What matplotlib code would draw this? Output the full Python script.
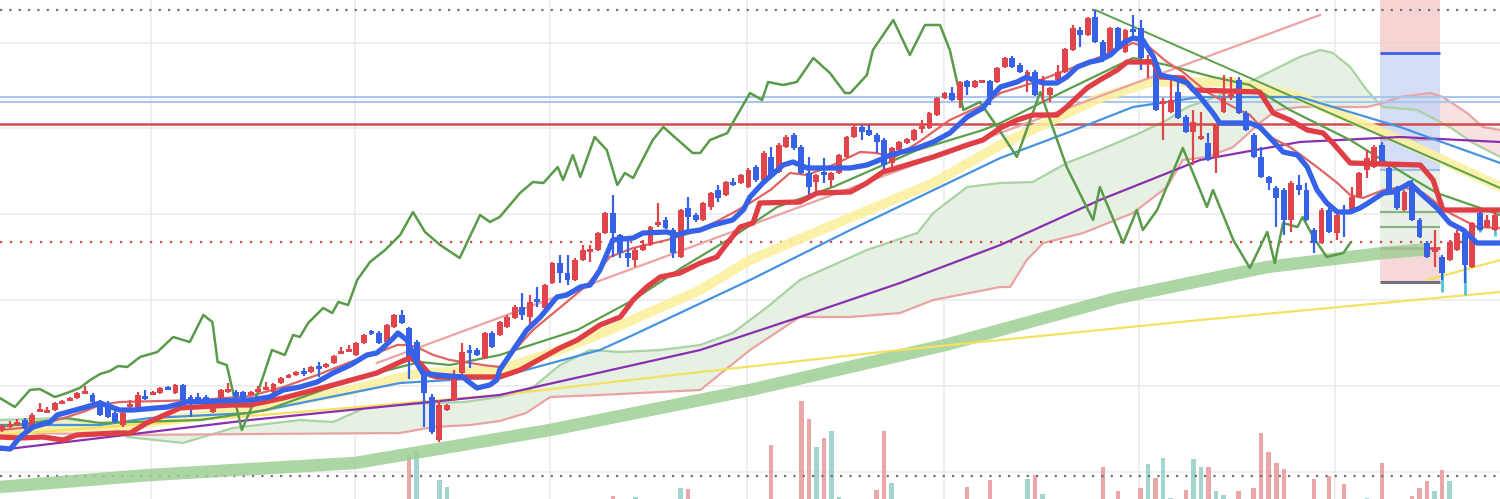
import matplotlib
matplotlib.use("Agg")
import matplotlib.pyplot as plt
import numpy as np

# ---- candles (price levels, the price scale runs top -> bottom: 0 at top, 499 at bottom) ----
opens = [430, 426, 424, 420, 427, 411, 412, 410, 403, 400, 398, 393, 395, 402, 403, 413, 425, 406, 407, 396,
         394, 393, 387, 393, 385, 397, 397, 397, 412, 398, 391, 392, 392, 394, 391, 389, 392, 383, 377, 375,
         371, 372, 366, 367, 363, 353, 351, 355, 343, 331, 333, 342, 327, 315, 328, 342, 373, 397, 440, 410,
         400, 373, 350, 350, 358, 333, 335,
         327, 318, 307, 317, 299, 308, 283, 263, 273, 280, 260, 251, 250, 233, 213, 235, 253, 260, 250, 245,
         224, 220, 230, 257, 208, 215, 220, 207, 190, 195, 182, 183, 187,
         167, 180, 157, 172, 147, 135, 147, 173, 182, 172, 180, 173, 157, 137, 127, 130, 135, 140, 163, 150,
         143, 140, 128, 128, 115, 98, 93, 100, 81, 87, 82, 81, 82,
         67, 58, 65, 74, 72, 81, 95, 80, 72, 50, 30, 35, 17, 42, 53, 28, 52, 29, 28, 61,
         65, 103, 112, 92, 117, 132, 138, 143, 157, 112, 96, 80, 113,
         135, 157, 177, 188, 190, 220, 185, 190, 230, 243, 210, 233, 211, 212, 197, 170, 167, 145, 168, 188,
         210, 185, 220, 243, 251, 257, 260, 250, 233, 267, 213, 227, 230]
closes = [426, 424, 422, 428, 415, 409, 410, 403, 401, 398, 393, 391, 402, 415, 417, 422, 413, 404, 395, 398,
          392, 388, 389, 385, 400, 400, 399, 400, 402, 390, 389, 397, 398, 392, 389, 387, 384, 378, 375, 372,
          372, 367, 368, 364, 356, 351, 349, 343, 335, 334, 343, 325, 315, 323, 357, 363, 393, 432, 405, 405,
          377, 352, 352, 355, 333, 347, 322,
          317, 307, 315, 302, 301, 285, 263, 273, 280, 260, 250, 249, 233, 213, 233, 253, 258, 250, 245, 227,
          222, 228, 253, 210, 217, 220, 203, 193, 198, 182, 184, 175, 170,
          180, 153, 177, 145, 137, 148, 173, 187, 175, 174, 173, 155, 137, 127, 132, 135, 142, 165, 148, 142,
          139, 130, 126, 113, 98, 93, 100, 82, 87, 81, 80, 97, 68,
          58, 67, 72, 72, 95, 79, 88, 72, 49, 28, 35, 18, 42, 57, 28, 48, 30, 31, 58, 59,
          110, 101, 100, 118, 132, 122, 136, 160, 125, 98, 94, 113, 130,
          157, 177, 183, 198, 220, 183, 190, 220, 243, 210, 232, 215, 213, 197, 173, 158, 147, 163, 190, 208,
          192, 220, 237, 257, 249, 273, 242, 233, 265, 223, 230, 220, 215]
highs = [424, 421, 419, 418, 413, 403, 407, 402, 400, 397, 392, 386, 393, 400, 401, 411, 410, 400, 392, 390,
         391, 387, 386, 384, 384, 395, 393, 395, 400, 389, 383, 390, 391, 391, 386, 382, 383, 377, 374, 371,
         368, 366, 362, 363, 355, 347, 345, 342, 334, 330, 331, 324, 314, 310, 327, 340, 370, 394, 400, 404,
         370, 343, 345, 348, 332, 331, 321,
         315, 305, 293, 295, 287, 284, 262, 255, 255, 258, 245, 245, 232, 212, 195, 234, 240, 248, 240, 226,
         203, 217, 228, 209, 197, 213, 202, 192, 185, 181, 178, 174, 168,
         165, 151, 147, 143, 135, 133, 145, 157, 174, 158, 172, 154, 136, 125, 125, 125, 133, 138, 147, 141,
         138, 129, 120, 112, 97, 92, 87, 81, 80, 80, 80, 80, 67,
         57, 56, 63, 70, 70, 76, 87, 65, 48, 25, 27, 17, 10, 40, 27, 27, 29, 15, 20, 55,
         63, 98, 80, 82, 115, 110, 112, 133, 124, 75, 77, 77, 111,
         133, 147, 176, 186, 188, 181, 175, 183, 228, 208, 208, 213, 205, 187, 172, 150, 145, 142, 166, 186,
         190, 180, 218, 241, 230, 255, 240, 230, 230, 222, 208, 215, 210]
lows = [432, 428, 426, 430, 428, 412, 413, 411, 404, 401, 399, 394, 403, 416, 418, 423, 427, 408, 408, 400,
        395, 394, 390, 394, 401, 417, 402, 402, 413, 399, 393, 398, 399, 395, 392, 390, 393, 384, 378, 376,
        376, 373, 377, 368, 364, 354, 352, 356, 344, 335, 344, 343, 328, 324, 379, 365, 427, 434, 442, 411,
        401, 374, 368, 356, 359, 348, 336,
        328, 319, 320, 327, 307, 309, 284, 283, 285, 281, 261, 262, 251, 234, 257, 258, 267, 267, 251, 246,
        227, 229, 258, 258, 232, 222, 221, 210, 202, 196, 186, 184, 188,
        182, 181, 178, 173, 148, 150, 174, 198, 193, 183, 187, 174, 158, 138, 140, 136, 153, 172, 170, 151,
        144, 141, 133, 129, 116, 99, 101, 108, 95, 88, 83, 105, 83,
        68, 68, 73, 92, 96, 103, 102, 81, 73, 51, 47, 36, 43, 62, 54, 50, 53, 37, 70, 78,
        111, 140, 113, 119, 133, 165, 140, 161, 173, 113, 100, 114, 131,
        158, 178, 190, 227, 235, 232, 195, 221, 253, 244, 233, 240, 237, 213, 198, 178, 168, 164, 191, 210,
        211, 221, 238, 258, 267, 280, 261, 251, 283, 268, 231, 228, 231]

# ---- volume (bar index, height from the bottom edge, 1 = up day) ----
vol_x = [54, 55, 58, 59, 81, 84, 90, 91, 102, 106, 107, 108, 109, 110, 111, 116, 117, 118, 128, 131,
         136, 137, 138, 146, 148, 151, 152, 153, 154, 155, 157, 158, 159, 160, 161, 162, 164, 166, 167, 168,
         169, 170, 174, 176, 178, 181, 183, 187, 188, 189, 190, 191, 192]
vol_h = [44, 48, 19, 12, 3, 2, 11, 10, 54, 98, 80, 52, 61, 68, 2, 9, 68, 16, 12, 19,
         20, 24, 5, 32, 8, 11, 35, 21, 41, 1, 9, 40, 32, 32, 8, 4, 8, 11, 66, 47,
         36, 30, 20, 23, 15, 1, 36, 3, 11, 18, 8, 29, 18]
vol_up = [1, 0, 0, 0, 1, 0, 0, 1, 1, 1, 1, 0, 1, 0, 0, 1, 1, 0, 1, 1,
          0, 1, 0, 1, 1, 1, 0, 1, 0, 0, 1, 0, 0, 1, 0, 0, 1, 1, 1, 1,
          1, 1, 1, 1, 1, 0, 1, 1, 1, 1, 0, 1, 0]

# ---- indicator lines (x in bars) ----
tenkan_x = [-0.3, 1.1, 2.4, 4.1, 6.4, 7.3, 10.7, 13.0, 15.6, 17.4, 21.9, 24.5, 32.9, 35.5, 37.3, 39.5, 41.8, 43.9,
            46.2, 48.4, 49.7, 50.5, 51.9, 52.5, 53.7, 54.1, 55.0, 55.8, 57.7, 61.1, 62.1, 63.0, 64.7, 65.6, 66.0,
            69.6, 71.4, 73.6, 74.9, 76.7, 78.0, 79.3, 81.0, 83.7, 85.0, 88.2, 89.5, 90.8, 92.6, 94.3, 96.9, 98.3,
            99.2, 100.9, 103.6, 104.9, 106.8, 112.5, 114.7, 116.4, 117.8, 121.4, 123.5, 125.7, 128.0, 130.1,
            131.4, 132.4, 134.6, 135.9, 136.7, 138.1, 139.9, 141.2, 142.6, 144.3, 145.6, 147.0, 148.7, 150.0,
            151.3, 152.7, 153.6, 155.3, 157.2, 158.9, 160.6, 161.5, 165.5, 166.8, 168.2, 169.9, 171.8, 173.1,
            174.4, 175.7, 177.1, 178.8, 180.1, 181.4, 183.2, 184.5, 185.8, 186.7, 188.1, 190.3, 192.0, 193.8,
            195.6, 198.7]
tenkan_y = [448, 449, 437, 427, 422, 415, 408, 403, 410, 410, 407, 402, 400, 397, 390, 387, 382, 373, 365, 355,
            353, 348, 338, 333, 340, 347, 363, 373, 375, 377, 383, 388, 385, 380, 370, 330, 317, 297, 295, 287,
            285, 270, 240, 238, 233, 232, 235, 232, 230, 225, 220, 210, 197, 183, 165, 162, 168, 168, 165, 160,
            155, 148, 142, 133, 117, 108, 95, 87, 82, 77, 80, 83, 83, 77, 67, 62, 60, 55, 43, 38,
            40, 57, 75, 78, 83, 97, 113, 123, 123, 127, 138, 152, 155, 167, 190, 203, 212, 212, 208, 202,
            193, 192, 187, 183, 193, 208, 223, 230, 243, 243]

kijun_x = [-0.3, 2.4, 5.4, 8.1, 9.9, 15.3, 17.0, 19.2, 23.6, 30.6, 32.9, 37.3, 43.9, 49.7, 52.8, 54.1, 55.4,
           56.8, 57.7, 66.0, 68.7, 74.0, 76.3, 79.3, 82.0, 83.7, 85.5, 87.3, 89.9, 92.6, 94.8, 96.2, 97.9, 99.6,
           100.5, 105.8, 108.1, 112.5, 114.7, 116.8, 119.1, 123.5, 128.0, 130.1, 132.4, 134.6, 136.7, 139.9,
           141.2, 142.6, 143.9, 145.6, 147.9, 149.2, 152.7, 153.6, 156.6, 158.0, 166.8, 168.6, 170.8, 173.1,
           175.2, 176.5, 178.8, 188.1, 189.8, 191.1, 198.7]
kijun_y = [437, 438, 437, 440, 435, 433, 433, 423, 408, 405, 405, 398, 385, 373, 362, 358, 363, 375, 377, 377,
           370, 348, 340, 325, 317, 300, 287, 277, 273, 263, 257, 243, 227, 223, 203, 202, 193, 192, 183, 172,
           167, 157, 145, 140, 128, 120, 115, 115, 107, 97, 88, 80, 70, 62, 62, 77, 78, 90, 92, 113,
           120, 130, 133, 143, 163, 165, 180, 210, 210]

fast_x = [-0.3, 4.1, 8.6, 10.7, 13.0, 15.6, 26.3, 32.9, 37.3, 41.8, 46.2, 49.7, 52.4, 53.7, 55.0, 57.2, 59.4,
          63.8, 66.0, 70.4, 74.9, 77.6, 80.6, 83.7, 88.2, 92.6, 96.9, 99.2, 101.9, 104.5, 106.8, 110.2, 113.8,
          116.0, 118.2, 121.4, 125.7, 130.1, 132.4, 136.7, 141.2, 145.6, 150.0, 152.3, 154.5, 156.6, 159.8,
          163.3, 165.5, 168.2, 170.8, 174.4, 177.1, 178.8, 180.5, 183.2, 185.8, 188.5, 192.0, 195.6, 198.7]
fast_y = [430, 427, 417, 412, 405, 402, 400, 396, 387, 375, 362, 353, 345, 345, 347, 355, 360, 365, 367, 330,
          302, 285, 257, 248, 240, 230, 213, 203, 190, 173, 175, 165, 152, 153, 158, 143, 120, 105, 93, 83,
          70, 57, 43, 48, 62, 72, 92, 107, 115, 137, 147, 167, 183, 195, 198, 190, 187, 193, 213, 227, 228]

mid_x = [-0.3, 8.6, 13.0, 26.3, 35.1, 46.2, 52.8, 55.4, 59.4, 66.0, 76.3, 83.7, 90.3, 96.9, 102.8, 110.2,
         121.4, 130.1, 132.4, 141.2, 150.0, 154.5, 160.6, 165.5, 170.8, 178.8, 186.7, 190.3, 198.7]
mid_y = [427, 418, 423, 420, 410, 380, 367, 362, 365, 355, 330, 300, 267, 237, 207, 187, 150, 130, 123, 90,
         58, 65, 77, 85, 110, 140, 177, 193, 215]

pale_x = [-0.3, 17.0, 32.9, 46.2, 55.4, 66.0, 74.0, 80.6, 92.6, 99.2, 110.2, 123.5, 132.4, 145.6, 152.3, 163.3,
          172.1, 185.4, 198.7]
pale_y = [430, 425, 410, 390, 373, 370, 350, 330, 290, 260, 225, 183, 145, 98, 82, 82, 97, 140, 187]

sky_x = [-0.3, 13.0, 19.6, 32.9, 46.2, 52.8, 66.0, 79.3, 83.7, 99.2, 112.5, 132.4, 141.2, 150.0, 158.9, 172.1,
         185.4, 198.7]
sky_y = [425, 425, 418, 413, 393, 383, 377, 350, 335, 280, 230, 158, 133, 107, 97, 97, 127, 163]

purple_x = [-0.3, 32.9, 66.0, 92.6, 105.8, 119.1, 132.4, 145.6, 158.9, 172.1, 185.4, 198.7]
purple_y = [450, 420, 395, 350, 317, 283, 245, 200, 160, 142, 137, 142]

long_x = [-0.3, 19.6, 46.8, 72.7, 99.2, 125.1, 147.9, 167.8, 183.2, 189.4]
long_y = [487, 475, 463, 430, 390, 345, 298, 267, 253, 249]

ytrend_x = [-0.3, 39.5, 66.0, 92.6, 119.1, 158.9, 198.7]
ytrend_y = [435, 412, 395, 372, 350, 320, 292]
yshort_x = [189.0, 198.7]
yshort_y = [280, 260]

span_a_x = [-0.3, 7.7, 14.3, 16.6, 24.0, 30.6, 39.5, 43.9, 48.4, 56.8, 61.3, 66.0, 70.0, 74.0, 78.0, 82.0, 87.3,
            92.6, 96.9, 101.5, 105.8, 114.7, 121.4, 123.5, 128.0, 132.4, 136.7, 141.2, 145.6, 150.9, 154.5,
            157.2, 159.8, 164.2, 167.8, 172.1, 174.8, 176.5, 178.8, 181.0, 182.7, 183.2, 187.7, 192.0, 195.1,
            198.7]
span_a_y = [420, 418, 425, 437, 443, 428, 420, 422, 407, 403, 402, 397, 390, 365, 350, 352, 350, 345, 333, 307,
            280, 250, 233, 213, 187, 183, 182, 163, 150, 133, 120, 107, 100, 87, 73, 57, 50, 53, 67, 90,
            104, 107, 110, 127, 143, 157]
span_b_x = [-0.3, 15.6, 52.8, 57.2, 62.1, 66.0, 69.5, 72.7, 79.3, 92.6, 99.2, 105.8, 112.5, 119.1, 123.5, 132.4,
            133.7, 135.9, 138.1, 143.4, 150.0, 154.5, 156.6, 159.8, 163.3, 166.8, 169.1, 172.1, 181.0, 182.7,
            185.4, 189.4, 191.1, 194.3, 196.4, 198.7]
span_b_y = [432, 435, 433, 427, 425, 421, 413, 397, 395, 390, 350, 317, 317, 313, 300, 287, 287, 260, 243, 233,
            213, 187, 160, 157, 147, 123, 110, 107, 107, 104, 97, 93, 97, 113, 127, 130]
span_cross = 182.7

chikou_x = [-0.3, 1.7, 3.7, 5.0, 7.0, 8.6, 10.3, 11.7, 13.0, 14.3, 15.4, 16.6, 18.3, 20.6, 22.7, 24.9, 26.7,
            27.9, 28.6, 29.8, 31.8, 33.8, 35.8, 37.5, 38.6, 39.5, 40.6, 42.6, 43.8, 44.6, 45.9, 47.1, 48.8,
            50.8, 52.8, 54.5, 56.1, 58.1, 60.7, 63.4, 64.7, 66.0, 68.7, 70.4, 71.8, 73.7, 74.4, 75.7, 76.7,
            78.6, 80.2, 81.6, 82.6, 83.7, 86.3, 87.7, 91.6, 92.6, 93.9, 96.2, 96.9, 99.2, 100.8, 101.6, 103.6,
            105.4, 107.6, 109.8, 111.8, 112.5, 114.7, 115.5, 118.2, 120.4, 122.4, 124.4, 125.7, 127.5, 129.7,
            132.0, 134.6, 137.7, 141.2, 144.7, 145.6, 148.7, 150.5, 151.3, 153.2, 156.6, 159.8, 160.6, 163.3,
            165.5, 167.8, 168.8, 169.9, 171.8, 172.5, 173.9, 175.7, 177.9, 178.8]
chikou_y = [398, 407, 390, 389, 397, 393, 388, 380, 374, 371, 366, 367, 357, 352, 337, 342, 315, 322, 362, 365,
            430, 395, 350, 355, 335, 337, 323, 308, 313, 302, 305, 280, 262, 250, 235, 212, 232, 245, 258, 215,
            222, 217, 193, 182, 183, 167, 180, 155, 177, 137, 150, 185, 173, 178, 140, 127, 153, 153, 140, 133,
            123, 93, 100, 82, 85, 82, 58, 73, 93, 93, 75, 50, 20, 55, 25, 25, 50, 110, 102, 127,
            157, 92, 167, 220, 187, 243, 210, 230, 210, 148, 207, 190, 240, 268, 232, 263, 223, 227, 217, 237,
            257, 253, 243]

pink_trend_x = [49.7, 174.8]
pink_trend_y = [363, 15]
green_trend_x = [145.0, 198.7]
green_trend_y = [10, 188]

cyan_x = [191, 194, 196, 198]
cyan_top = [270, 265, 208, 212]
cyan_bot = [292, 295, 232, 236]

# horizontal levels
dotted_gray = [10, 476]
blue_levels = [97, 102]
red_level = 124
red_dotted = 242

# position tool box
pos_left, pos_right = 182.8, 190.7
pos_edges = [0, 53, 170, 248, 282]
pos_colors = ["#f3c6c6", "#c6d2f4", "#e2ecdf", "#f3cccc"]

grid_x = [19.8, 46.8, 72.7, 98.8, 124.9, 150.8, 176.8]
grid_y = [43, 128, 214, 300, 386, 472]

UP = "#e0454b"
DOWN = "#3862e6"

fig = plt.figure(figsize=(15, 4.99), dpi=100, facecolor="white")
xlim = (-0.27, 198.67)

# volume underneath
axv = fig.add_axes([0, 0, 1, 1])
axv.set_xlim(*xlim)
axv.set_ylim(0, 499)
axv.axis("off")
vcols = ["#eba7a7" if u else "#a2d5ce" for u in vol_up]
axv.bar(vol_x, vol_h, width=0.6, color=vcols, zorder=1)

ax = fig.add_axes([0, 0, 1, 1])
ax.patch.set_visible(False)
ax.set_xlim(*xlim)
ax.set_ylim(499, 0)
ax.axis("off")

for gx in grid_x:
    axv.axvline(gx, color="#ececec", lw=1.2, zorder=0)
for gy in grid_y:
    axv.axhline(499 - gy, color="#ececec", lw=1.2, zorder=0)

# ichimoku cloud
a_x, a_y = np.array(span_a_x), np.array(span_a_y)
b_x, b_y = np.array(span_b_x), np.array(span_b_y)
la, lb = a_x <= span_cross, b_x <= span_cross
ax.fill(np.concatenate([a_x[la], b_x[lb][::-1]]), np.concatenate([a_y[la], b_y[lb][::-1]]),
        color="#e6f1e3", lw=0, zorder=1)
ra, rb = a_x >= span_cross, b_x >= span_cross
ax.fill(np.concatenate([a_x[ra], b_x[rb][::-1]]), np.concatenate([a_y[ra], b_y[rb][::-1]]),
        color="#f8e1e1", lw=0, zorder=1)
ax.plot(span_a_x, span_a_y, color="#a9d3a2", lw=1.6, zorder=2)
ax.plot(span_b_x, span_b_y, color="#e9a3a3", lw=1.6, zorder=2)

# position tool
for k, col in enumerate(pos_colors):
    ax.fill_between([pos_left, pos_right], pos_edges[k], pos_edges[k + 1], color=col, alpha=0.75, lw=0, zorder=1.5)
ax.hlines(53, pos_left, pos_right, color="#3a62e6", lw=2, zorder=2)
ax.hlines(140, pos_left, pos_right, color="#bdbdbd", lw=1.5, zorder=2)
ax.hlines(170, pos_left, pos_right, color="#9dbbe9", lw=1.5, zorder=2)
ax.hlines([212, 227], pos_left, pos_right, color="#86b47f", lw=1.5, zorder=2)
ax.hlines(248, pos_left, pos_right, color="#d24e4e", lw=2, zorder=2)
ax.hlines(282, pos_left, pos_right, color="#707080", lw=2.2, zorder=2)

# horizontal levels
for lv in dotted_gray:
    ax.axhline(lv, color="#6f6f6f", lw=1.6, ls=(0, (1, 3.2)), zorder=2)
for lv in blue_levels:
    ax.axhline(lv, color="#a9c6ec", lw=1.5, zorder=2)
ax.axhline(red_level, color="#d24a4a", lw=1.8, zorder=2)
ax.axhline(red_dotted, color="#d24a4a", lw=1.6, ls=(0, (1, 3.5)), zorder=2)

# moving averages and trend lines
ax.plot(long_x, long_y, color="#9fcf96", lw=9, alpha=0.85, solid_capstyle="butt", zorder=2)
ax.plot(pale_x, pale_y, color="#fbf0a0", lw=7, alpha=0.9, zorder=2.2)
ax.plot(ytrend_x, ytrend_y, color="#f4e160", lw=1.6, zorder=2.3)
ax.plot(yshort_x, yshort_y, color="#f4e160", lw=1.6, zorder=2.3)
ax.plot(purple_x, purple_y, color="#8a2fb0", lw=1.6, zorder=2.5)
ax.plot(sky_x, sky_y, color="#4793e0", lw=1.6, zorder=2.5)
ax.plot(mid_x, mid_y, color="#5aa04c", lw=1.6, zorder=2.6)
ax.plot(fast_x, fast_y, color="#e06464", lw=1.6, zorder=2.6)
ax.plot(pink_trend_x, pink_trend_y, color="#eaa4a4", lw=1.6, zorder=2.4)
ax.plot(green_trend_x, green_trend_y, color="#5aa04c", lw=1.4, zorder=2.4)
ax.plot(chikou_x, chikou_y, color="#5a9a4b", lw=1.8, zorder=2.7)

# candles
idx = np.arange(len(opens))
o, c, h, l = map(np.array, (opens, closes, highs, lows))
up = c < o
cols = np.where(up, UP, DOWN)
ax.vlines(idx, h, l, colors=cols, lw=1.6, zorder=4)
body_top = np.minimum(o, c)
body_h = np.maximum(np.abs(o - c), 2.5)
ax.bar(idx, body_h, bottom=body_top, width=0.78, color=cols, lw=0, zorder=4)
ax.vlines(cyan_x, cyan_top, cyan_bot, colors="#4cc6d6", lw=2, zorder=3.9)

# conversion / base lines on top
ax.plot(kijun_x, kijun_y, color="#df3f44", lw=3.8, zorder=5, solid_joinstyle="round")
ax.plot(tenkan_x, tenkan_y, color="#3562e8", lw=3.8, zorder=5.1, solid_joinstyle="round")

fig.savefig("out.png", dpi=100, facecolor="white")
